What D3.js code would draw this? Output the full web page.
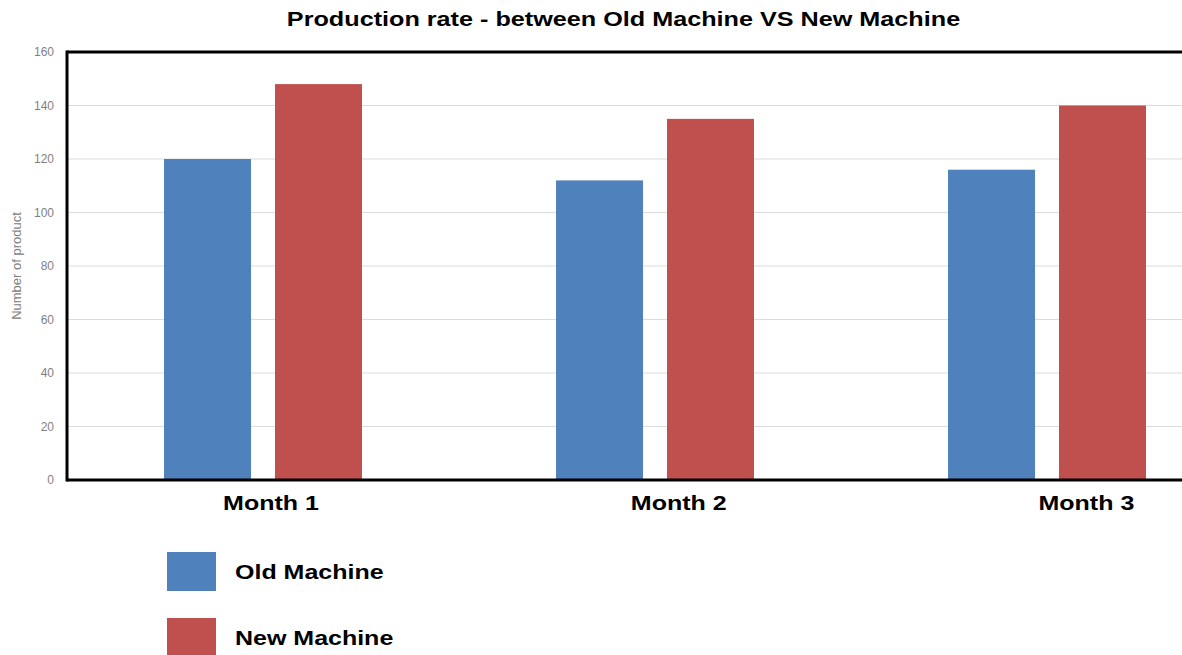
<!DOCTYPE html>
<html><head><meta charset="utf-8">
<script src="https://cdn.jsdelivr.net/npm/d3@7"></script>
<style>body{margin:0;background:#fff}svg{display:block}</style>
</head><body>
<svg id="c" width="1182" height="655"></svg>
<script>
const categories = ["Month 1", "Month 2", "Month 3"];
const seriesNames = ["Old Machine", "New Machine"];
const oldMachine = [120, 112, 116];
const newMachine = [148, 135, 140];
const yTicks = [0, 20, 40, 60, 80, 100, 120, 140, 160];
const colors = ["#4f81bd", "#c0504d"];
const title = "Production rate - between Old Machine VS New Machine";
const yLabel = "Number of product";

(function () {
const values = [oldMachine, newMachine];
const data = categories.map((c, i) => ({cat: c, vals: seriesNames.map((s, j) => ({s, j, v: values[j][i]}))}));

const svg = d3.select("#c");
const W = 1182;
const mLeft = 67, mTop = 52, mBottom = 480;
const FONT = "Liberation Sans, Arial, sans-serif";

const y = d3.scaleLinear().domain([0, 160]).range([mBottom, mTop]);
const x0 = d3.scaleBand().domain(categories).range([mLeft, mLeft + 3 * 392]).paddingInner(0.495).paddingOuter(0.2475);
const x1 = d3.scaleBand().domain(seriesNames).range([0, x0.bandwidth()]).paddingInner(0.216);
const xLab = d3.scalePoint().domain(categories).range([mLeft + 204, mLeft + 204 + 2 * 407.7]);

// grid
svg.append("g").selectAll("line").data(yTicks.filter(t => t > 0 && t < 160)).join("line")
  .attr("x1", mLeft).attr("x2", W).attr("y1", d => y(d)).attr("y2", d => y(d))
  .attr("stroke", "#dcdcdc").attr("stroke-width", 1.2);

// y axis ticks
const yAxis = svg.append("g").attr("transform", `translate(${mLeft},0)`)
  .call(d3.axisLeft(y).tickValues(yTicks).tickSize(0).tickPadding(13));
yAxis.select(".domain").remove();
yAxis.selectAll("text").attr("fill", "#7f7f7f").style("font-family", FONT).style("font-size", "12px");

// bars
svg.append("g").selectAll("g").data(data).join("g")
  .attr("transform", d => `translate(${x0(d.cat)},0)`)
  .selectAll("rect").data(d => d.vals).join("rect")
  .attr("x", d => x1(d.s)).attr("width", x1.bandwidth())
  .attr("y", d => y(d.v)).attr("height", d => y(0) - y(d.v))
  .attr("fill", d => colors[d.j]);

// frame lines
svg.append("line").attr("x1", mLeft).attr("x2", W).attr("y1", mTop).attr("y2", mTop).attr("stroke", "#000").attr("stroke-width", 3);
svg.append("line").attr("x1", mLeft).attr("x2", W).attr("y1", mBottom).attr("y2", mBottom).attr("stroke", "#000").attr("stroke-width", 3);
svg.append("line").attr("x1", mLeft).attr("x2", mLeft).attr("y1", mTop - 1.5).attr("y2", mBottom + 1.5).attr("stroke", "#000").attr("stroke-width", 3);

// x labels
svg.append("g").selectAll("text").data(categories).join("text")
  .attr("transform", d => `translate(${xLab(d)},510) scale(1.25,1)`).attr("text-anchor", "middle")
  .style("font-family", FONT).style("font-weight", "bold").style("font-size", "20px")
  .attr("fill", "#000").text(d => d);

// title
svg.append("text").attr("transform", "translate(623.5,26) scale(1.2,1)").attr("text-anchor", "middle")
  .style("font-family", FONT).style("font-weight", "bold").style("font-size", "21px")
  .attr("fill", "#000").text(title);

// y label
svg.append("text").attr("transform", "translate(21,266) rotate(-90)").attr("text-anchor", "middle")
  .style("font-family", FONT).style("font-size", "13px")
  .attr("fill", "#808080").text(yLabel);

// legend
const leg = svg.append("g").selectAll("g").data(seriesNames).join("g")
  .attr("transform", (d, i) => `translate(167,${552 + i * 66})`);
leg.append("rect").attr("width", 49).attr("height", 39).attr("fill", (d, i) => colors[i]);
leg.append("text").attr("transform", "translate(68,27) scale(1.25,1)")
  .style("font-family", FONT).style("font-weight", "bold").style("font-size", "20px")
  .attr("fill", "#000").text(d => d);
})();
</script>
</body></html>
